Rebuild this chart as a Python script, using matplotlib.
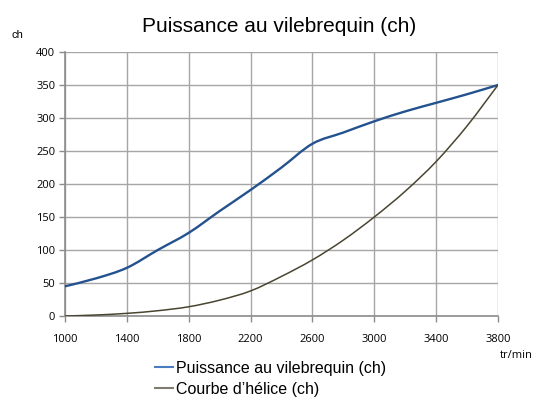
import matplotlib
matplotlib.use("Agg")
import matplotlib.pyplot as plt
from matplotlib.lines import Line2D
from matplotlib.path import Path
from matplotlib.patches import PathPatch

# Data
rpm = [1000, 1200, 1400, 1600, 1800, 2000, 2200, 2400, 2600, 2800, 3000, 3200, 3400, 3600, 3800]
puissance = [45, 57, 73, 100, 126, 159, 191, 225, 261, 278, 295, 310, 323, 336, 350]
helice = [0, 1.5, 4, 8, 14, 24, 38, 60, 85, 115, 150, 189, 234, 288, 350]
xticks = [1000, 1400, 1800, 2200, 2600, 3000, 3400, 3800]
yticks = [0, 50, 100, 150, 200, 250, 300, 350, 400]
title = "Puissance au vilebrequin (ch)"
labels = ["Puissance au vilebrequin (ch)", "Courbe d\u2019h\u00e9lice (ch)"]

blue = "#24528f"
olive = "#4a4530"
grid_c = "#a6a6a6"


def smooth_path(xs, ys):
    """Excel-style smoothed line: cubic Bezier through the data points."""
    n = len(xs)
    verts = [(xs[0], ys[0])]
    codes = [Path.MOVETO]
    for i in range(n - 1):
        x0, y0 = (xs[i - 1], ys[i - 1]) if i > 0 else (xs[i], ys[i])
        x1, y1 = xs[i], ys[i]
        x2, y2 = xs[i + 1], ys[i + 1]
        x3, y3 = (xs[i + 2], ys[i + 2]) if i + 2 < n else (x2, y2)
        c1 = (x1 + (x2 - x0) / 6.0, y1 + (y2 - y0) / 6.0)
        c2 = (x2 - (x3 - x1) / 6.0, y2 - (y3 - y1) / 6.0)
        verts += [c1, c2, (x2, y2)]
        codes += [Path.CURVE4] * 3
    return Path(verts, codes)


fig = plt.figure(figsize=(5.35, 4.01), dpi=100)
ax = fig.add_axes([65/535, 1-316/401, (498-65)/535, (316-52)/401])

ax.add_patch(PathPatch(smooth_path(rpm, puissance), fill=False, edgecolor=blue,
                       lw=1.7, capstyle="round", zorder=3))
ax.add_patch(PathPatch(smooth_path(rpm, helice), fill=False, edgecolor=olive,
                       lw=1.1, zorder=3))

ax.set_xlim(1000, 3800)
ax.set_ylim(0, 400)
ax.set_xticks(xticks)
ax.set_yticks(yticks)
ax.grid(True, color=grid_c, lw=1.0)
ax.set_axisbelow(True)
for s in ["top", "right"]:
    ax.spines[s].set_visible(False)
for s in ["left", "bottom"]:
    ax.spines[s].set_color("#8c8c8c")
    ax.spines[s].set_linewidth(1.2)
ax.tick_params(axis="both", colors="#8c8c8c", length=4, width=1, labelcolor="black",
               labelsize=8)
ax.tick_params(axis="x", pad=9)
ax.tick_params(axis="y", pad=3)
for t in ax.get_xticklabels() + ax.get_yticklabels():
    t.set_family("Open Sans")

fig.text(279/535, 1-27/401, title, ha="center", va="center", fontsize=15,
         family="Liberation Sans")
fig.text(12/535, 1-35/401, "ch", ha="left", va="center", fontsize=8,
         family="Liberation Sans")
fig.text(516/535, 1-355/401, "tr/min", ha="center", va="center", fontsize=8,
         family="Open Sans")

handles = [Line2D([], [], color="#4a7cc0", lw=1.5),
           Line2D([], [], color="#7f7b6e", lw=1.5)]
leg = fig.legend(handles, labels, loc="upper left", bbox_to_anchor=(155/535, 1-361/401),
                 frameon=False, borderpad=0, borderaxespad=0, handlelength=1.1,
                 handletextpad=0.2, labelspacing=0.35,
                 prop={"family": "Liberation Sans", "size": 11.5})

fig.savefig("out.png", dpi=100)
